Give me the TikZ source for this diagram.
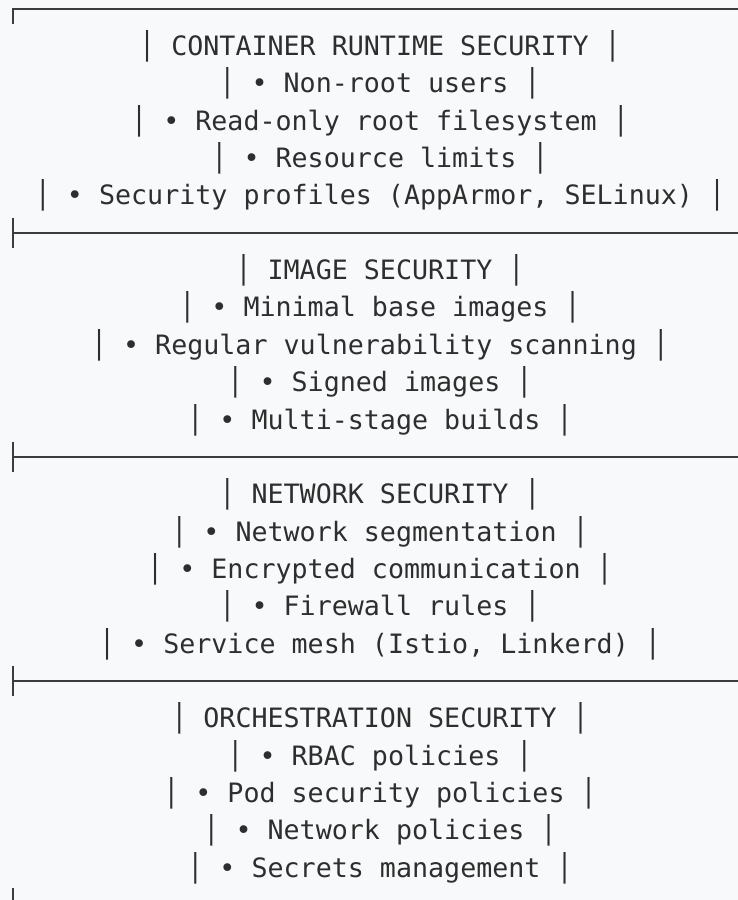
\documentclass[tikz,border=0pt]{standalone}
\usepackage{fontspec}
\setmonofont{DejaVu Sans Mono}
\definecolor{pagebg}{HTML}{F8F9FA}
\definecolor{ink}{HTML}{2E2E2E}
\definecolor{rule}{HTML}{3C3C3C}
\begin{document}
\begin{tikzpicture}[x=0.75pt,y=-0.75pt,
  txt/.style={anchor=base,inner sep=0pt,text=ink,font=\ttfamily\fontsize{20pt}{24pt}\selectfont},
  frame/.style={draw=rule,line width=1.5pt}]
\fill[pagebg] (0,0) rectangle (738,900);
\useasboundingbox (0,0) rectangle (738,900);
% row pitch 37.35, first row centre 46, baseline 9.5 below centre
% frame: top corner, tees between sections, open bottom
\draw[frame] (13,24) -- (13,8.6) -- (745,8.6);
\foreach \r in {5,11,17}{
  \pgfmathsetmacro\yy{46+\r*37.35}
  \draw[frame] (13,\yy-15) -- (13,\yy+15);
  \draw[frame] (13,\yy) -- (745,\yy);
}
\draw[frame] (13,888) -- (13,905);
% section 1
\node[txt] (c0) at (380,{46+0*37.35+9.5}) {│ CONTAINER RUNTIME SECURITY │};
\node[txt] (c1) at (380,{46+1*37.35+9.5}) {│ • Non-root users │};
\node[txt] (c2) at (380,{46+2*37.35+9.5}) {│ • Read-only root filesystem │};
\node[txt] (c3) at (380,{46+3*37.35+9.5}) {│ • Resource limits │};
\node[txt] (c4) at (380,{46+4*37.35+9.5}) {│ • Security profiles (AppArmor, SELinux) │};
% section 2
\node[txt] (i0) at (380,{46+6*37.35+9.5}) {│ IMAGE SECURITY │};
\node[txt] (i1) at (380,{46+7*37.35+9.5}) {│ • Minimal base images │};
\node[txt] (i2) at (380,{46+8*37.35+9.5}) {│ • Regular vulnerability scanning │};
\node[txt] (i3) at (380,{46+9*37.35+9.5}) {│ • Signed images │};
\node[txt] (i4) at (380,{46+10*37.35+9.5}) {│ • Multi-stage builds │};
% section 3
\node[txt] (n0) at (380,{46+12*37.35+9.5}) {│ NETWORK SECURITY │};
\node[txt] (n1) at (380,{46+13*37.35+9.5}) {│ • Network segmentation │};
\node[txt] (n2) at (380,{46+14*37.35+9.5}) {│ • Encrypted communication │};
\node[txt] (n3) at (380,{46+15*37.35+9.5}) {│ • Firewall rules │};
\node[txt] (n4) at (380,{46+16*37.35+9.5}) {│ • Service mesh (Istio, Linkerd) │};
% section 4
\node[txt] (o0) at (380,{46+18*37.35+9.5}) {│ ORCHESTRATION SECURITY │};
\node[txt] (o1) at (380,{46+19*37.35+9.5}) {│ • RBAC policies │};
\node[txt] (o2) at (380,{46+20*37.35+9.5}) {│ • Pod security policies │};
\node[txt] (o3) at (380,{46+21*37.35+9.5}) {│ • Network policies │};
\node[txt] (o4) at (380,{46+22*37.35+9.5}) {│ • Secrets management │};
\end{tikzpicture}
\end{document}
